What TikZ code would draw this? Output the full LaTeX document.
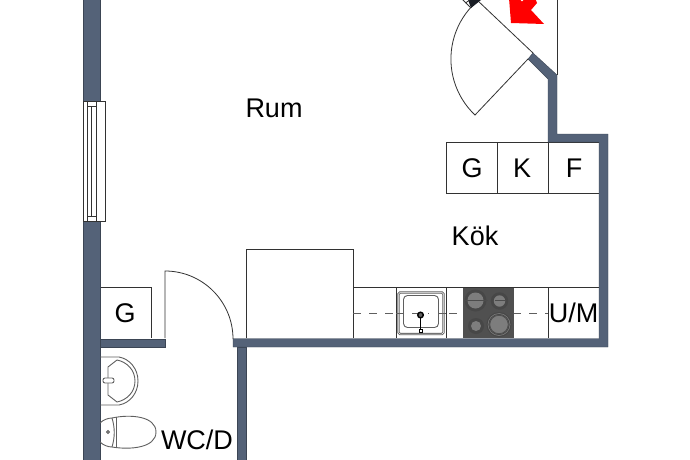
\documentclass[tikz,border=0pt]{standalone}
\usepackage{fontspec}
\setmainfont{Liberation Sans}
\definecolor{wallc}{RGB}{84,98,120}
\definecolor{linec}{RGB}{50,50,50}
\definecolor{fixc}{RGB}{95,95,95}
\definecolor{hob}{RGB}{80,80,80}
\definecolor{ringc}{RGB}{125,125,125}
\tikzset{
  wall/.style={fill=wallc,draw=wallc!70!black,line width=0.4pt},
  thin/.style={draw=linec,line width=0.8pt},
  fixture/.style={draw=fixc,line width=0.9pt},
  lbl/.style={font=\fontsize{27}{27}\selectfont,text=black,inner sep=0pt},
}
\begin{document}
\begin{tikzpicture}[x=1pt,y=-1pt]
\useasboundingbox (0,0) rectangle (690,460);
\fill[white] (0,0) rectangle (690,460);
% units
\draw[thin] (246,338) -- (246,249) -- (353,249) -- (353,338);
\draw[thin] (353,287) -- (599,287);
\draw[thin] (396,287) -- (396,338) (446,287) -- (446,338) (548,287) -- (548,338);
\draw[fixture,dash pattern=on 8pt off 8pt] (353,313) -- (548,313);
\draw[thin] (446,142) rectangle (599,193);
\draw[thin] (497,142) -- (497,193) (548,142) -- (548,193);
\draw[thin] (100,287) -- (151,287) -- (151,338);
% sink
\fill[white] (396.5,287.5) rectangle (445.5,337.5);
\draw[draw=fixc,line width=2.4pt,rounded corners=1.5pt] (398.5,292.5) rectangle (443.5,334);
\draw[draw=white,line width=0.5pt,rounded corners=1.5pt] (398.5,292.5) rectangle (443.5,334);
\draw[fixture,rounded corners=4pt] (403.5,295.5) rectangle (438.5,327.5);
\draw[fixture,dash pattern=on 8pt off 8pt] (396,313) -- (429,313) (438,313) -- (446,313);
\draw[black,line width=1.6pt] (420.5,316) -- (420.5,330);
\draw[black,fill=fixc,line width=1.4pt] (420.5,315) circle (2.8pt);
\draw[black,fill=white,line width=0.6pt] (419,329) rectangle (422,332);
% hob
\fill[hob] (463,288) rectangle (514,338);
\foreach \cx/\cy/\r in {475.5/300.5/11,499.5/301/8.7,476/326/8,499/324.5/12.5}{
  \fill[black!72] (\cx,\cy) circle (\r pt);
  \fill[ringc] (\cx,\cy) circle (\r pt-3pt);
}
\draw[black!70,line width=0.7pt] (499,324.5) circle (9.2pt);
\draw[ringc,line width=0.6pt] (499,324.5) circle (11pt);
\draw[black!70,line width=0.9pt] (464,300.5) -- (488,300.5) (495,300.5) -- (505,300.5);
% walls
\fill[wall] (83,-2) rectangle (100,101);
\fill[wall] (83,221) rectangle (100,462);
\fill[wall] (100,339) rectangle (165,347);
\fill[wall] (237,347) rectangle (246,462);
\fill[wall] (533,53) -- (557,75) -- (557,134) -- (608,134) -- (608,347) -- (233,347) -- (233,338.5) -- (599,338.5) -- (599,142) -- (548,142) -- (548,79) -- (528,59) -- cycle;
% window
\draw[thin] (83,101) rectangle (105,221);
\draw[thin] (87,101) -- (87,221) (96,101) -- (96,221);
\draw[thin] (91,106) -- (91,216);
\draw[thin] (87,106) -- (96,106) (87,216) -- (96,216);
% doors
\draw[thin] (165,338) -- (165,271) arc[start angle=90,end angle=0,radius=68pt];
\draw[thin] (528,59) -- (475,115) arc[start angle=226.6,end angle=136,radius=77pt];
% outer door opening
\draw[thin] (533,53) -- (477,0);
\draw[thin] (557,-2) -- (557,75);
\begin{scope}
\clip (0,0) rectangle (690,460);
\fill[black!70!wallc] (471,8) -- (481,0) -- (467,-3) -- cycle;
\draw[thin] (471,8) -- (461,-2);
\draw[thin] (471,-1) -- (465.5,3);
\fill[red] (509,-2) -- (511,23) -- (544,24) -- (531,10) -- (537,3) -- (535,-2) -- cycle;
\fill[white] (522,0) circle (1.3pt);
\end{scope}
% toilet room
\draw[fixture] (100,357) -- (119,357) .. controls (130,359) and (138,369) .. (138,381) .. controls (138,393) and (130,403) .. (119,405) -- (100,405);
\draw[fixture] (108,367) -- (117,360) .. controls (127,362) and (135,370) .. (135,381) .. controls (135,392) and (127,400) .. (117,402) -- (108,395) -- cycle;
\draw[fixture,fill=white,rounded corners=2pt] (103,378) rectangle (114,383);
\draw[fixture] (100,423) .. controls (103,420) and (108,418) .. (112,418) (100,442) .. controls (103,445) and (108,447) .. (112,447);
\draw[fixture] (112,418) .. controls (115,428) and (115,437) .. (112,447);
\draw[fixture] (116,417) -- (116,448);
\draw[fixture] (112,418) .. controls (130,414) and (156,416) .. (156,432) .. controls (156,448) and (130,450) .. (112,447);
\draw[fixture,fill=fixc!50] (108,432) circle (1.6pt);
% labels
\node[lbl] (rum) at (274,108) {Rum};
\node[lbl] (kok) at (475,236) {Kök};
\node[lbl] (g1) at (472,168) {G};
\node[lbl] (k1) at (522,168) {K};
\node[lbl] (f1) at (574,168) {F};
\node[lbl] (um) at (573.5,313) {U/M};
\node[lbl] (g2) at (125,313) {G};
\node[lbl] (wc) at (197,439.5) {WC/D};
\end{tikzpicture}
\end{document}
